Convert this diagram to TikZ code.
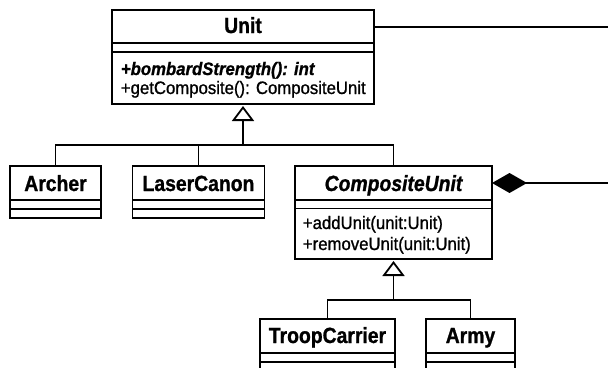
\documentclass[tikz,border=0pt]{standalone}
\usepackage{fontspec}
\setmainfont{Liberation Sans}
\newfontfamily\titlefont{Liberation Sans}[FakeStretch=0.88, FakeBold=1]
\newfontfamily\methfont{Liberation Sans}[FakeStretch=0.93, FakeBold=1]
\usetikzlibrary{arrows.meta}
\begin{document}
\begin{tikzpicture}[x=1pt,y=-1pt,
  line width=1.8pt,
  cls/.style={draw, line width=1.8pt, inner sep=0pt, outer sep=0pt},
  ttl/.style={anchor=base, inner sep=0pt, font=\titlefont\bfseries\fontsize{22}{26}\selectfont},
  meth/.style={anchor=base west, inner sep=0pt, font=\methfont\fontsize{18}{21}\selectfont},
  inh/.style={-{Triangle[open,length=15pt,width=22pt,line width=1.8pt]}, shorten >=2pt},
  link/.style={line width=1.8pt}
]
\clip (0,0) rectangle (608,367);
% Unit
\node[cls, minimum width=262pt, minimum height=94pt] (unit) at (243,57) {};
\draw (112,43) -- (374,43);
\draw (112,52) -- (374,52);
\node[ttl] (unitT) at (243,33) {Unit};
\node[meth] (unitM1) at (120,75) {\bfseries\itshape +bombardStrength(): int};
\node[meth] (unitM2) at (120,94) {+getComposite(): CompositeUnit};
% Archer
\node[cls, minimum width=91pt, minimum height=52pt] (archer) at (55.5,192) {};
\draw (10,200) -- (101,200);
\draw (10,209) -- (101,209);
\node[ttl] (archerT) at (55.5,191) {Archer};
% LaserCanon
\node[cls, minimum width=132pt, minimum height=52pt] (laser) at (198.5,192) {};
\draw (132.5,200) -- (264.5,200);
\draw (132.5,209) -- (264.5,209);
\node[ttl] (laserT) at (198.5,191) {LaserCanon};
% CompositeUnit
\node[cls, minimum width=197pt, minimum height=93pt] (cu) at (393.5,212.5) {};
\draw (295,200) -- (492,200);
\draw (295,208.5) -- (492,208.5);
\node[ttl, font=\titlefont\bfseries\itshape\fontsize{22}{26}\selectfont] (cuT) at (393.5,191) {CompositeUnit};
\node[meth] (cuM1) at (302,229) {+addUnit(unit:Unit)};
\node[meth] (cuM2) at (302,250) {+removeUnit(unit:Unit)};
% TroopCarrier
\node[cls, minimum width=135pt, minimum height=61pt] (troop) at (327.5,349.5) {};
\draw (260,353) -- (395,353);
\draw (260,362) -- (395,362);
\node[ttl] (troopT) at (327.5,343) {TroopCarrier};
% Army
\node[cls, minimum width=89pt, minimum height=61pt] (army) at (470.5,349.5) {};
\draw (426,353) -- (515,353);
\draw (426,362) -- (515,362);
\node[ttl] (armyT) at (470.5,343) {Army};
% generalisation Unit
\coordinate (j1) at (243,145);
\draw[link] (archer.north) |- (j1);
\draw[link] (laser.north) |- (j1);
\draw[link] (cu.north) |- (j1);
\draw[inh] (j1) -- (unit.south);
% generalisation CompositeUnit
\coordinate (j2) at (393.5,300);
\draw[link] (troop.north) |- (j2);
\draw[link] (army.north) |- (j2);
\draw[inh] (j2) -- (cu.south);
% associations
\coordinate (u2) at (608,27);
\draw[link] (unit.east |- u2) -- (u2);
\coordinate (agg) at (608,183);
\draw[link, -{Diamond[length=35pt,width=20pt,line width=0pt]}] (agg) -- (agg -| cu.east);
\end{tikzpicture}
\end{document}
